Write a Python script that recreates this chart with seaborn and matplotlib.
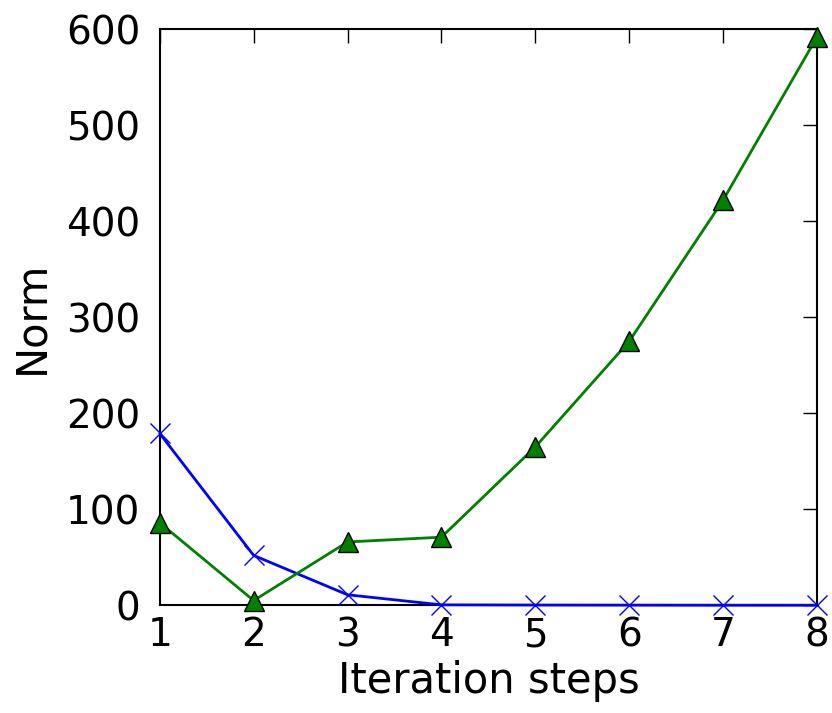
import matplotlib
matplotlib.use("Agg")
import matplotlib.pyplot as plt
import seaborn as sns
import pandas as pd

steps = [1, 2, 3, 4, 5, 6, 7, 8]
norm_blue = [179, 52, 11, 0.5, 0.3, 0.2, 0.1, 0.1]
norm_green = [86, 5, 66, 71, 165, 275, 422, 592]

sns.set_style("white")
plt.rcParams["font.family"] = ["DejaVu Sans"]
plt.rcParams["text.color"] = "black"
plt.rcParams["axes.labelcolor"] = "black"
plt.rcParams["xtick.color"] = "black"
plt.rcParams["ytick.color"] = "black"

fig = plt.figure(figsize=(8.32, 7.13), dpi=100)
ax = fig.add_axes([0.192, 0.151, 0.790, 0.808])

df_blue = pd.DataFrame({"step": steps, "norm": norm_blue})
df_green = pd.DataFrame({"step": steps, "norm": norm_green})

sns.lineplot(data=df_blue, x="step", y="norm", ax=ax, color="#0000ff",
             lw=2, marker="x", markersize=15, markeredgewidth=1,
             markeredgecolor="#0000ff", clip_on=False, zorder=3)
sns.lineplot(data=df_green, x="step", y="norm", ax=ax, color="#008000",
             lw=2, marker="^", markersize=14, markeredgewidth=1,
             markeredgecolor="black", clip_on=False, zorder=4)

ax.set_xlim(1, 8)
ax.set_ylim(0, 600)
ax.set_xticks(steps)
ax.set_yticks([0, 100, 200, 300, 400, 500, 600])
ax.set_xlabel("Iteration steps", fontsize=30, labelpad=4)
ax.set_ylabel("Norm", fontsize=30, labelpad=10)
ax.tick_params(axis="both", which="major", direction="in", length=10,
               width=1, labelsize=28, top=True, right=True, color="black",
               labelcolor="black")
ax.tick_params(axis="x", pad=8)
ax.tick_params(axis="y", pad=14)
for s in ax.spines.values():
    s.set_visible(True)
    s.set_color("black")
    s.set_linewidth(1.5)

fig.savefig("out.png", dpi=100)
